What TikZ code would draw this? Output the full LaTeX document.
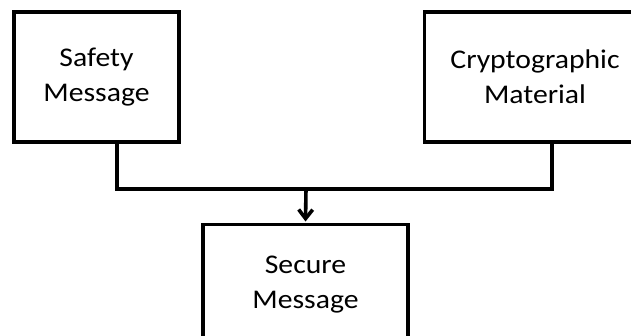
\documentclass[tikz,border=0pt]{standalone}
\usepackage{fontspec}
\setmainfont{Carlito}[FakeStretch=1.1]
\usetikzlibrary{arrows.meta}
\begin{document}
\begin{tikzpicture}[x=1pt, y=1pt, line width=3.6pt, main node/.style={rectangle,draw,align=center,inner sep=0pt}]%
\clip (0,0) rectangle (631,335);
\fill[white] (0,0) rectangle (631,335);
\begin{scope}[every node/.style={font=\fontsize{27}{35}\selectfont}]
\node[main node, minimum width=165pt, minimum height=130pt] (safety) at (96.5,258) {Safety\\Message};
\node[main node, minimum width=221pt, minimum height=130pt] (crypto) at (535,258) {Cryptographic\\Material};
\node[main node, minimum width=205pt, minimum height=120pt] (secure) at (305.5,50.7) {Secure\\Message};
\end{scope}
\begin{scope}
\coordinate (join) at (306,146.3);
\draw ([xshift=20.5pt]safety.south) |- (join) -| ([xshift=17pt]crypto.south);
\draw[-{Straight Barb[length=9pt,width=14pt]}, shorten >=1pt] (join) -- (secure.north);
\end{scope}
\end{tikzpicture}
\end{document}
